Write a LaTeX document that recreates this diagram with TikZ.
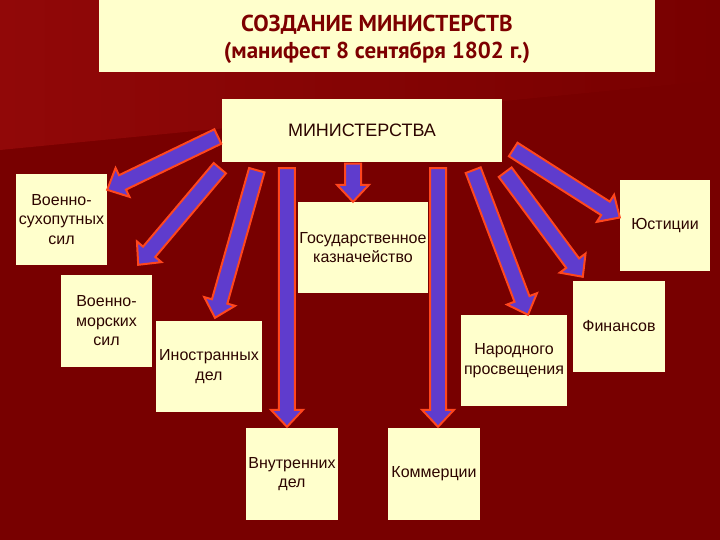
\documentclass[tikz,border=0pt]{standalone}
\usepackage{fontspec}
\setmainfont{Liberation Sans}
\newfontfamily\titlefont{PT Sans}
\usetikzlibrary{calc}

\definecolor{bgdark}{RGB}{120,0,0}
\definecolor{bglight}{RGB}{145,8,8}
\definecolor{boxfill}{RGB}{255,255,204}
\definecolor{titletext}{RGB}{125,0,0}
\definecolor{boxtext}{RGB}{45,5,0}
\definecolor{arrfill}{RGB}{95,60,205}
\definecolor{arrline}{RGB}{255,70,30}

\tikzset{
	box/.style={fill=boxfill, text=boxtext, align=center, inner sep=0pt,
		font=\fontsize{16}{19.5}\selectfont},
	barrow/.style={draw=arrline, fill=arrfill, line width=2pt, line join=miter,
		to path={
			($(\tikztostart)!8pt!90:(\tikztotarget)$)
			-- ($(\tikztotarget)!17pt!(\tikztostart)!8pt!-90:(\tikztostart)$)
			-- ($(\tikztotarget)!17pt!(\tikztostart)!16pt!-90:(\tikztostart)$)
			-- (\tikztotarget)
			-- ($(\tikztotarget)!17pt!(\tikztostart)!16pt!90:(\tikztostart)$)
			-- ($(\tikztotarget)!17pt!(\tikztostart)!8pt!90:(\tikztostart)$)
			-- ($(\tikztostart)!8pt!-90:(\tikztotarget)$)
			-- cycle}}
}

\begin{document}
\begin{tikzpicture}[x=1pt, y=-1pt]
		\useasboundingbox (0,0) rectangle (720,540);
		\fill[bgdark] (0,0) rectangle (720,540);
		\shade[left color=bglight, right color=bgdark] (0,0) -- (720,0) -- (720,80) -- (0,150) -- cycle;

		\node[box, minimum width=556pt, minimum height=72pt] (title) at (377,36) {};
		\node[text=titletext, align=center, inner sep=0pt, font=\fontsize{23}{27}\titlefont\bfseries]
			(titletxt) at ($(title.center)+(0,3)$) {СОЗДАНИЕ МИНИСТЕРСТВ\\(манифест 8 сентября 1802 г.)};
		\node[box, minimum width=280pt, minimum height=63pt, font=\fontsize{18}{22}\selectfont] (min) at (362,130.5) {МИНИСТЕРСТВА};

		\node[box, minimum width=91pt, minimum height=91pt] (suh) at (61.5,219.5) {Военно-\\сухопутных\\сил};
		\node[box, minimum width=91pt, minimum height=92pt] (mor) at (106.5,321) {Военно-\\морских\\сил};
		\node[box, minimum width=106pt, minimum height=91pt] (inos) at (209,366.5) {Иностранных\\дел};
		\node[box, minimum width=92pt, minimum height=92pt] (vnut) at (292,474) {Внутренних\\дел};
		\node[box, minimum width=130pt, minimum height=91pt] (kazn) at (363,247.5) {Государственное\\казначейство};
		\node[box, minimum width=92pt, minimum height=92pt] (komm) at (434,474) {Коммерции};
		\node[box, minimum width=106pt, minimum height=91pt] (nar) at (514,360.5) {Народного\\просвещения};
		\node[box, minimum width=92pt, minimum height=91pt] (fin) at (619,326.5) {Финансов};
		\node[box, minimum width=90pt, minimum height=91pt] (yust) at (665,225.5) {Юстиции};

		\draw[barrow] ($(min.west)+(-4,6)$) to ($(suh.north east)+(0,16)$);
		\draw[barrow] ($(min.south west)+(-2,6)$) to ($(mor.north east)+(-14,-10)$);
		\draw[barrow] ($(min.south west)+(35,8)$) to ($(inos.north)+(6,-3)$);
		\draw[barrow] ($(min.south west)+(65,6)$) to ($(vnut.north)+(-5,-1)$);
		\draw[barrow] ($(min.south)+(-9,1.5)$) to ($(kazn.north)+(-10,0)$);
		\draw[barrow] ($(min.south east)+(-64,6)$) to ($(komm.north)+(4,-1)$);
		\draw[barrow] ($(min.south east)+(-29,8)$) to ($(nar.north)+(14,0)$);
		\draw[barrow] ($(min.south east)+(3,10)$) to ($(fin.north west)+(10,-4)$);
		\draw[barrow] ($(min.east)+(11,19)$) to ($(yust.west)+(0,-8)$);
	\end{tikzpicture}
\end{document}
